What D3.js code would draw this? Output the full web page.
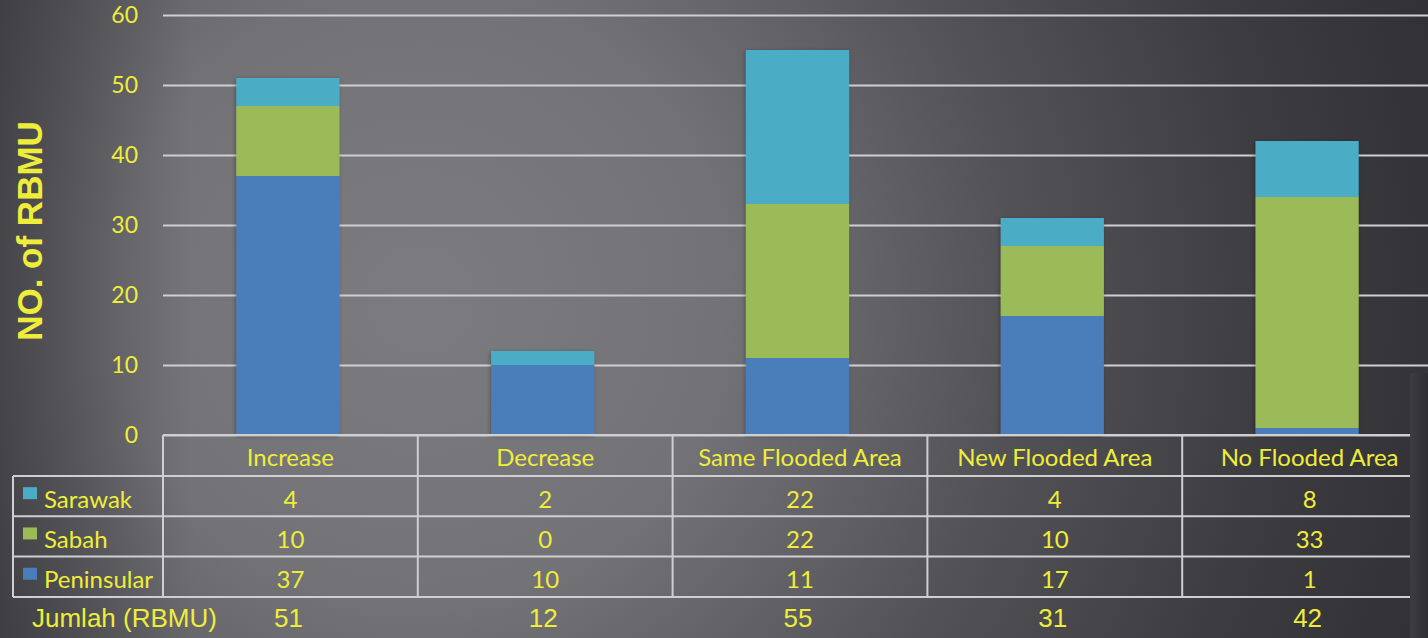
<!DOCTYPE html>
<html>
<head>
<meta charset="utf-8">
<script src="https://cdn.jsdelivr.net/npm/d3@7/dist/d3.min.js"></script>
<style>
  html, body { margin: 0; padding: 0; background: #3a393e; }
  svg { display: block; }
</style>
</head>
<body>
<svg id="chart" width="1428" height="638"></svg>
<script>
// Flood-area change per RBMU category, split by region
const categories = ["Increase", "Decrease", "Same Flooded Area", "New Flooded Area", "No Flooded Area"];
const peninsular = [37, 10, 11, 17, 1];
const sabah      = [10, 0, 22, 10, 33];
const sarawak    = [4, 2, 22, 4, 8];
const totals     = [51, 12, 55, 31, 42];
const seriesNames = ["Peninsular", "Sabah", "Sarawak"];
const seriesColors = ["#4a7ebb", "#9bbb59", "#4bacc6"];
const yTicks = [0, 10, 20, 30, 40, 50, 60];
const yTitle = "NO. of RBMU";
const totalLabel = "Jumlah (RBMU)";

const W = 1428, H = 638;
const plotLeft = 163, plotTop = 15, plotBottom = 435;
const colStep = 254.8;
const yellow = "#eeee3a";
const lineColor = "#cfcfd2";
const tableFont = "Lato, 'Open Sans', sans-serif";
const tableSize = 24;

const svg = d3.select("#chart");
const defs = svg.append("defs");

// backdrop: soft radial light from the upper left, dark towards the right
const rg = defs.append("radialGradient").attr("id", "bg")
  .attr("gradientUnits", "userSpaceOnUse")
  .attr("cx", 420).attr("cy", 300).attr("r", 1080);
[[0, "#7c7b80"], [0.28, "#737277"], [0.55, "#535257"], [0.8, "#3c3b40"], [1, "#302f34"]]
  .forEach(([o, c]) => rg.append("stop").attr("offset", o).attr("stop-color", c));
const lg = defs.append("linearGradient").attr("id", "leftShade")
  .attr("x1", 0).attr("x2", 1).attr("y1", 0).attr("y2", 0);
lg.append("stop").attr("offset", 0).attr("stop-color", "#1e1e22").attr("stop-opacity", 0.45);
lg.append("stop").attr("offset", 1).attr("stop-color", "#1e1e22").attr("stop-opacity", 0);

const shadow = defs.append("filter").attr("id", "barShadow")
  .attr("x", "-20%").attr("y", "-20%").attr("width", "140%").attr("height", "140%");
shadow.append("feDropShadow").attr("dx", -1).attr("dy", 1).attr("stdDeviation", 2)
  .attr("flood-color", "#000").attr("flood-opacity", 0.3);

svg.append("rect").attr("width", W).attr("height", H).attr("fill", "url(#bg)");
svg.append("rect").attr("width", 190).attr("height", H).attr("fill", "url(#leftShade)");

// scales
const y = d3.scaleLinear().domain([0, 60]).range([plotBottom, plotTop]);
const xCol = d3.scaleBand().domain(categories)
  .range([plotLeft, plotLeft + colStep * categories.length]).padding(0);
const xBar = d3.scaleBand().domain(categories)
  .range([plotLeft - 2.5, plotLeft - 2.5 + colStep * categories.length])
  .paddingInner(0.595).paddingOuter(0.2975);

// gridlines
const grid = svg.append("g")
  .attr("transform", `translate(${plotLeft},0)`)
  .call(d3.axisLeft(y).tickValues(yTicks).tickSize(-(W - plotLeft)).tickFormat(""));
grid.select(".domain").remove();
grid.selectAll(".tick line").attr("stroke", lineColor).attr("stroke-width", 2);

// y tick labels
const yAxis = svg.append("g")
  .attr("transform", `translate(138,0)`)
  .call(d3.axisLeft(y).tickValues(yTicks).tickSize(0).tickPadding(0));
yAxis.select(".domain").remove();
yAxis.selectAll(".tick text")
  .attr("fill", yellow).attr("font-family", tableFont).attr("font-size", 23);

svg.append("text")
  .attr("transform", `translate(42,${231}) rotate(-90)`)
  .attr("text-anchor", "middle")
  .attr("fill", yellow)
  .attr("font-family", "'Liberation Sans', Arial, sans-serif")
  .attr("font-weight", "bold")
  .attr("font-size", 35)
  .text(yTitle);

// stacked bars
const rows = categories.map((c, i) => ({ cat: c, Peninsular: peninsular[i], Sabah: sabah[i], Sarawak: sarawak[i] }));
const stack = d3.stack().keys(seriesNames)(rows);
const color = d3.scaleOrdinal().domain(seriesNames).range(seriesColors);

const barsG = svg.append("g").attr("filter", "url(#barShadow)");
barsG.selectAll("g.series").data(stack).join("g")
  .attr("class", "series")
  .attr("fill", d => color(d.key))
  .selectAll("rect").data(d => d).join("rect")
  .attr("x", d => xBar(d.data.cat))
  .attr("width", xBar.bandwidth())
  .attr("y", d => y(d[1]))
  .attr("height", d => y(d[0]) - y(d[1]));

// data table under the plot
const tableRight = 1437;
const legendLeft = 13;
const headerTop = plotBottom, rowH = 40.3;
const rowTops = [headerTop + 41, headerTop + 41 + rowH, headerTop + 41 + 2 * rowH];
const tableBottom = headerTop + 41 + 3 * rowH;
const table = svg.append("g");
const ln = (x1, y1, x2, y2) => table.append("line")
  .attr("x1", x1).attr("y1", y1).attr("x2", x2).attr("y2", y2)
  .attr("stroke", lineColor).attr("stroke-width", 2);

ln(plotLeft, headerTop, tableRight, headerTop);
rowTops.forEach(t => ln(legendLeft, t, tableRight, t));
ln(legendLeft, tableBottom, tableRight, tableBottom);
ln(legendLeft, rowTops[0], legendLeft, tableBottom);
categories.forEach(c => ln(xCol(c), headerTop, xCol(c), tableBottom));

// header row
table.selectAll("text.hdr").data(categories).join("text")
  .attr("class", "hdr")
  .attr("x", d => xCol(d) + xCol.bandwidth() / 2)
  .attr("y", headerTop + 23)
  .attr("dy", "0.35em")
  .attr("text-anchor", "middle")
  .attr("fill", yellow).attr("font-family", tableFont).attr("font-size", tableSize)
  .text(d => d);

// series rows, top to bottom: Sarawak, Sabah, Peninsular
const tableRows = [
  { name: "Sarawak", values: sarawak, color: seriesColors[2] },
  { name: "Sabah", values: sabah, color: seriesColors[1] },
  { name: "Peninsular", values: peninsular, color: seriesColors[0] }
];
tableRows.forEach((r, ri) => {
  const cy = rowTops[ri] + rowH / 2;
  table.append("rect")
    .attr("x", 23).attr("y", cy - 9).attr("width", 14).attr("height", 12)
    .attr("fill", r.color);
  table.append("text")
    .attr("x", 44).attr("y", cy + 3).attr("dy", "0.35em")
    .attr("fill", yellow).attr("font-family", tableFont).attr("font-size", tableSize)
    .text(r.name);
  table.selectAll(null).data(r.values).join("text")
    .attr("x", (d, i) => xCol(categories[i]) + xCol.bandwidth() / 2)
    .attr("y", cy + 3).attr("dy", "0.35em")
    .attr("text-anchor", "middle")
    .attr("fill", yellow).attr("font-family", tableFont).attr("font-size", tableSize)
    .text(d => d);
});

// totals row
svg.append("text")
  .attr("x", 32).attr("y", 618).attr("dy", "0.35em")
  .attr("fill", yellow).attr("font-family", "'Liberation Sans', Arial, sans-serif").attr("font-size", 26)
  .text(totalLabel);
svg.selectAll("text.total").data(totals).join("text")
  .attr("class", "total")
  .attr("x", (d, i) => xCol(categories[i]) + xCol.bandwidth() / 2 - 2)
  .attr("y", 618).attr("dy", "0.35em")
  .attr("text-anchor", "middle")
  .attr("fill", yellow).attr("font-family", "'Liberation Sans', Arial, sans-serif").attr("font-size", 26)
  .text(d => d);

// dark panel along the lower right edge
const panel = defs.append("linearGradient").attr("id", "panel")
  .attr("x1", 0).attr("x2", 1).attr("y1", 0).attr("y2", 0);
panel.append("stop").attr("offset", 0).attr("stop-color", "#3d3c41");
panel.append("stop").attr("offset", 1).attr("stop-color", "#2f2e33");
svg.append("rect").attr("x", 1410).attr("y", 373).attr("width", W - 1410).attr("height", H - 373)
  .attr("fill", "url(#panel)");
</script>
</body>
</html>
